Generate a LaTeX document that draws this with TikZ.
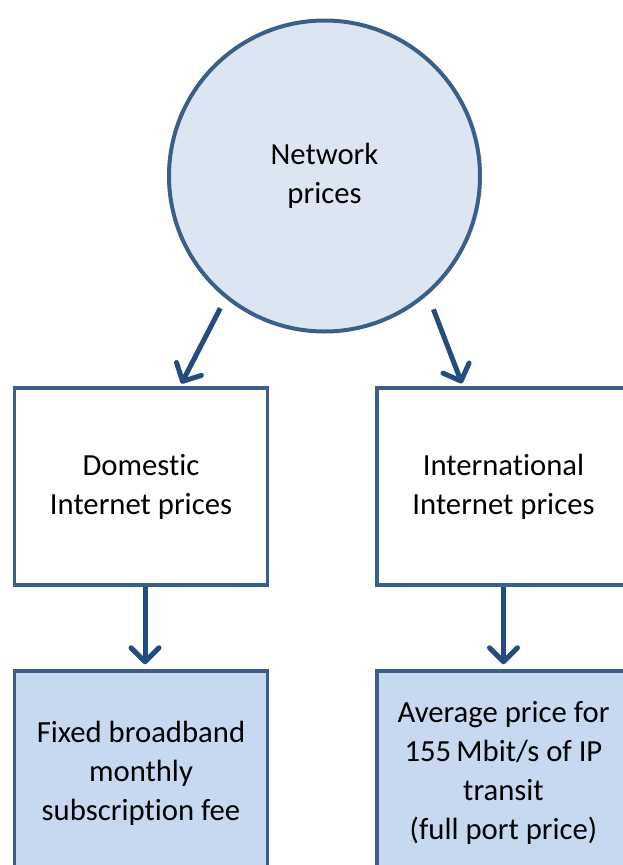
\documentclass[tikz,border=0pt]{standalone}
\usepackage{fontspec}
\setmainfont{Carlito}[Ligatures={NoCommon}]
\usetikzlibrary{arrows.meta}
\definecolor{circfill}{HTML}{DCE6F2}
\definecolor{edgec}{HTML}{3A5F8B}
\definecolor{arrowc}{HTML}{254C7F}
\definecolor{leaf}{HTML}{C6D9F1}
\begin{document}
\begin{tikzpicture}[x=1pt,y=-1pt,
  txt/.style={font=\fontsize{30.7}{39}\selectfont, align=center, text=black},
  hub/.style={circle, draw=edgec, line width=4pt, fill=circfill, minimum size=311pt, inner sep=0pt, txt},
  midbox/.style={rectangle, draw=edgec, line width=3.5pt, fill=white, minimum width=253pt, minimum height=197pt, inner sep=0pt, txt},
  leafbox/.style={midbox, fill=leaf, minimum height=204pt},
  arr/.style={draw=arrowc, line width=5pt, -{Straight Barb[length=14pt,width=28pt,line join=round,line cap=round]}}]
\useasboundingbox (0,0) rectangle (623,865);
\clip (0,0) rectangle (623,865);
\node[hub] (net) at (324.5,176) {Network\\prices};
\node[midbox] (dom) at (141,486.5) {Domestic\\Internet prices};
\node[midbox] (intl) at (503.5,486.5) {International\\Internet prices};
\node[leafbox] (fix) at (141,773) {Fixed broadband\\monthly\\subscription fee};
\node[leafbox] (ipt) at (503.5,773) {Average price for\\155\,Mbit/s of IP\\transit\\(full port price)};
\draw[arr, shorten <=11pt, shorten >=3pt] (net.231.8) -- ([xshift=39pt]dom.north);
\draw[arr, shorten <=15.5pt, shorten >=3pt] (net.311) -- ([xshift=-40.5pt]intl.north);
\draw[arr, shorten >=5pt] ([xshift=4pt]dom.south) -- ([xshift=4pt]fix.north);
\draw[arr, shorten >=5pt] (intl.south) -- (ipt.north);
\end{tikzpicture}
\end{document}
